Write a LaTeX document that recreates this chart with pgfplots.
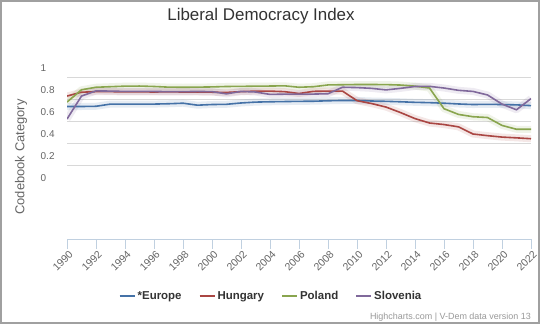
\documentclass[border=0pt]{standalone}
\usepackage{fontspec}
\setmainfont{Liberation Sans}
\usepackage{pgfplots}
\usepackage{pgfplotstable}
\pgfplotsset{compat=1.18}
\definecolor{eu}{HTML}{4572A7}
\definecolor{hu}{HTML}{AA4643}
\definecolor{pl}{HTML}{89A54E}
\definecolor{si}{HTML}{80699B}
\definecolor{gridc}{HTML}{D8D8D8}
\definecolor{axc}{HTML}{C0D0E0}
\definecolor{txt}{HTML}{333333}
\definecolor{lab}{HTML}{666666}
\definecolor{cred}{HTML}{999999}
\definecolor{bordc}{HTML}{A0A0A0}

\pgfplotstableread{
year eu hu pl si
1990 0.650 0.745 0.690 0.536
1991 0.650 0.780 0.802 0.745
1992 0.652 0.785 0.825 0.792
1993 0.672 0.785 0.830 0.790
1994 0.672 0.783 0.835 0.787
1995 0.672 0.783 0.836 0.788
1996 0.672 0.782 0.832 0.787
1997 0.675 0.783 0.826 0.785
1998 0.680 0.782 0.825 0.785
1999 0.662 0.782 0.826 0.787
2000 0.668 0.780 0.828 0.785
2001 0.670 0.778 0.832 0.765
2002 0.682 0.785 0.833 0.787
2003 0.690 0.790 0.835 0.782
2004 0.693 0.790 0.836 0.760
2005 0.695 0.785 0.838 0.762
2006 0.697 0.768 0.825 0.762
2007 0.698 0.788 0.830 0.763
2008 0.702 0.790 0.846 0.766
2009 0.705 0.790 0.848 0.825
2010 0.705 0.703 0.850 0.822
2011 0.700 0.677 0.850 0.815
2012 0.697 0.645 0.849 0.801
2013 0.693 0.595 0.845 0.815
2014 0.688 0.540 0.835 0.832
2015 0.685 0.500 0.818 0.833
2016 0.680 0.486 0.630 0.818
2017 0.673 0.465 0.578 0.797
2018 0.668 0.400 0.557 0.787
2019 0.670 0.385 0.550 0.755
2020 0.668 0.372 0.478 0.672
2021 0.665 0.365 0.443 0.620
2022 0.658 0.357 0.443 0.722
}\ldi

\begin{document}
\begin{tikzpicture}
\useasboundingbox (0,0) rectangle (540bp,324bp);
\fill[white] (0,0) rectangle (540bp,324bp);
\begin{axis}[
  at={(67bp,85bp)}, anchor=south west,
  scale only axis, width=464bp, height=162bp,
  xmin=1990, xmax=2022, ymin=-0.5545, ymax=0.9182,
  axis x line*=bottom, axis y line*=left,
  x axis line style={draw=axc, line width=1bp},
  y axis line style={draw=none},
  xtick={1990,1992,...,2022},
  xticklabels={1990,1992,1994,1996,1998,2000,2002,2004,2006,2008,2010,2012,2014,2016,2018,2020,2022},
  xtick style={draw=axc, line width=1bp},
  tick align=outside, major tick length=9.5bp,
  ytick style={draw=none},
  ytick={0.1182,0.3182,0.5182,0.7182,0.9182},
  yticklabels={0.2,0.4,0.6,0.8,1},
  extra y ticks={-0.0818}, extra y tick labels={0}, extra y tick style={grid=none},
  ymajorgrids, major grid style={draw=gridc, line width=1bp},
  yticklabel style={anchor=west, xshift=-17bp, yshift=9bp, inner sep=0pt, font=\fontsize{10}{12}\selectfont, text=lab},
  xticklabel style={rotate=45, anchor=north east, inner sep=0pt, font=\fontsize{10.5}{12}\selectfont, text=lab, xshift=0bp, yshift=-2bp},
  legend columns=4,
  legend style={at={(axis description cs:0.4397,-0.352)}, anchor=center, draw=none, fill=none,
    font=\bfseries\fontsize{11.5}{13}\selectfont, text=txt,
    /tikz/every even column/.append style={column sep=15bp}},
  legend image code/.code={\draw[#1, line width=2bp] (0bp,0bp) -- (15bp,0bp);},
]
\addplot[eu, line width=7bp, opacity=0.13, line join=round, forget plot] table[x=year,y=eu]{\ldi};
\addplot[hu, line width=7bp, opacity=0.13, line join=round, forget plot] table[x=year,y=hu]{\ldi};
\addplot[pl, line width=7bp, opacity=0.13, line join=round, forget plot] table[x=year,y=pl]{\ldi};
\addplot[si, line width=7bp, opacity=0.13, line join=round, forget plot] table[x=year,y=si]{\ldi};
\addplot[eu, line width=1.6bp, line join=round] table[x=year,y=eu]{\ldi};
\addlegendentry{*Europe}
\addplot[hu, line width=1.6bp, line join=round] table[x=year,y=hu]{\ldi};
\addlegendentry{Hungary}
\addplot[pl, line width=1.6bp, line join=round] table[x=year,y=pl]{\ldi};
\addlegendentry{Poland}
\addplot[si, line width=1.6bp, line join=round] table[x=year,y=si]{\ldi};
\addlegendentry{Slovenia}
\end{axis}
\node[text=txt, font=\fontsize{17}{19}\selectfont] at (261bp,307.5bp) {Liberal Democracy Index};
\node[rotate=90, text=lab, font=\fontsize{13}{15}\selectfont] at (21bp,167bp) {Codebook Category};
\node[anchor=east, text=cred, font=\fontsize{9}{11}\selectfont, inner sep=0pt] at (531bp,7bp) {Highcharts.com | V-Dem data version 13};
\draw[draw=bordc, line width=2bp] (1bp,1bp) rectangle (539bp,323bp);
\end{tikzpicture}
\end{document}
